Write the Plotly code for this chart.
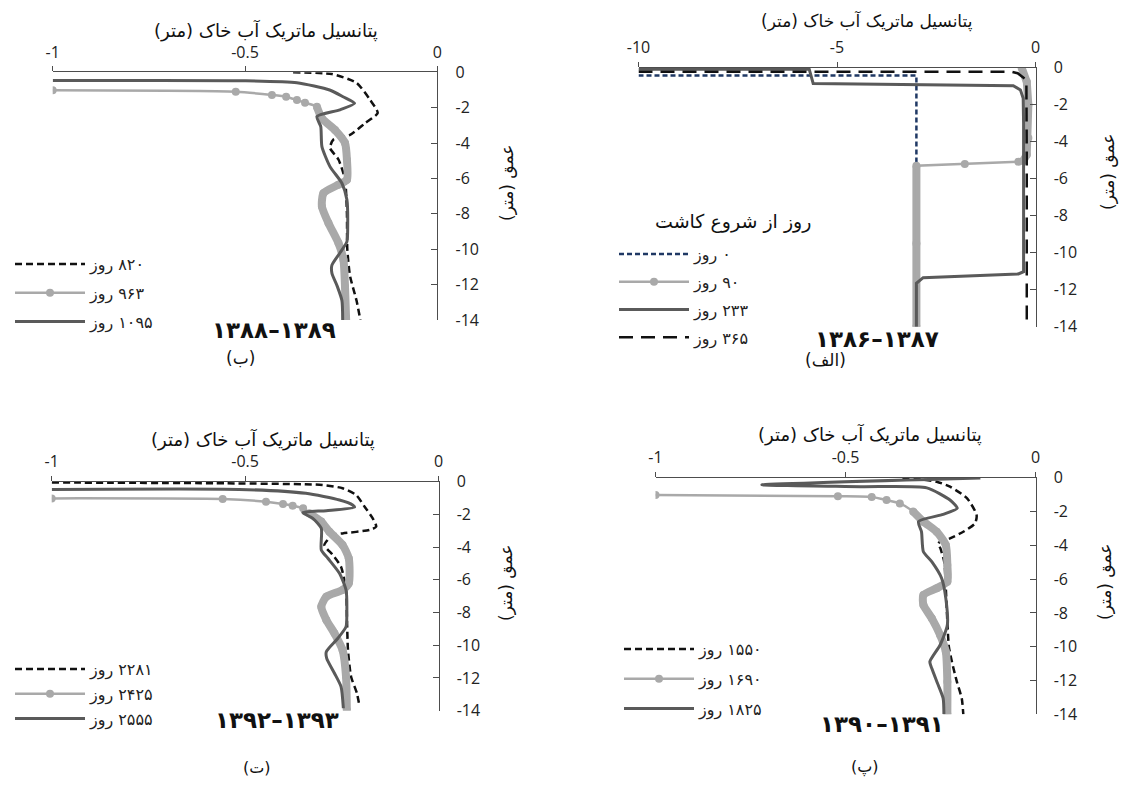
import plotly.graph_objects as go

W, H = 1128, 787          # browser window
OFF = 8                   # default page margin around the figure
FW, FH = W - 2 * OFF, H - 2 * OFF
FA = "DejaVu Sans"
NUM = "Open Sans"
RLM = "\u200f"

# ---------------- data ----------------
# panel (الف) 1386-1387, x in metres (-10..0)
a_days = [0, 90, 233, 365]
a0_x = [-10.0, -3.0, -3.0]
a0_d = [-0.42, -0.42, -5.15]
a90_x = [-0.35, -0.22, -0.18, -0.18, -0.22, -0.31, -0.43, -1.78, -3.0, -3.0, -3.0]
a90_d = [0.0, -0.76, -2.0, -3.8, -4.7, -5.04, -5.08, -5.2, -5.3, -9.5, -14.0]
a233_x = [-10.0, -5.7, -5.6, -0.56, -0.38, -0.31, -0.3, -0.3, -0.43, -2.83, -3.0, -3.0]
a233_d = [-0.08, -0.08, -0.85, -0.97, -1.2, -1.65, -3.0, -11.03, -11.15, -11.35, -11.65, -14.0]
a365_x = [-10.0, -0.6, -0.45, -0.23, -0.22, -0.22]
a365_d = [-0.22, -0.22, -0.3, -0.66, -5.0, -14.0]

# panel (ب) 1388-1389
b_days = [820, 963, 1095]
b820_x = [-0.375, -0.274, -0.21, -0.175, -0.155, -0.188, -0.227, -0.27, -0.279, -0.257, -0.24, -0.235, -0.234, -0.227, -0.21, -0.2]
b820_d = [0.0, -0.1, -0.6, -1.55, -2.3, -2.88, -3.54, -3.8, -4.27, -4.93, -6.06, -7.95, -10.0, -11.5, -12.9, -14.0]
b963_x = [-1.0, -0.524, -0.43, -0.393, -0.365, -0.344, -0.313, -0.3, -0.266, -0.24, -0.235, -0.235, -0.257, -0.296, -0.3, -0.283, -0.257, -0.244, -0.24, -0.237]
b963_d = [-1.02, -1.1, -1.28, -1.38, -1.57, -1.72, -1.95, -2.6, -3.26, -4.0, -4.94, -6.07, -6.35, -6.83, -7.58, -8.52, -9.65, -10.6, -12.1, -14.0]
b1095_x = [-1.0, -0.505, -0.365, -0.28, -0.245, -0.215, -0.253, -0.313, -0.303, -0.3, -0.279, -0.248, -0.235, -0.233, -0.235, -0.253, -0.274, -0.274, -0.26, -0.248, -0.246]
b1095_d = [-0.47, -0.48, -0.59, -1.0, -1.38, -1.75, -2.12, -2.5, -3.07, -4.2, -5.33, -6.27, -7.2, -8.73, -9.57, -10.2, -10.9, -11.36, -12.1, -12.9, -14.0]

# panel (پ) 1390-1391
p_days = [1550, 1690, 1825]
p1550_x = [-0.35, -0.3, -0.26, -0.225, -0.18, -0.155, -0.159, -0.19, -0.225, -0.256, -0.25, -0.24, -0.236, -0.232, -0.228, -0.22, -0.207, -0.194, -0.19]
p1550_d = [0.0, -0.1, -0.24, -0.53, -1.22, -2.2, -2.7, -3.2, -3.59, -3.88, -4.2, -5.0, -6.54, -8.5, -10.0, -10.89, -12.07, -13.06, -14.0]
p1690_x = [-1.0, -0.52, -0.431, -0.392, -0.357, -0.322, -0.295, -0.26, -0.236, -0.232, -0.232, -0.26, -0.295, -0.295, -0.273, -0.251, -0.236, -0.232, -0.232]
p1690_d = [-1.02, -1.1, -1.14, -1.32, -1.52, -2.0, -2.6, -3.2, -3.98, -5.17, -6.15, -6.54, -6.94, -7.53, -8.32, -9.31, -10.3, -12.07, -14.0]
p1825_x = [-0.145, -0.72, -0.46, -0.286, -0.225, -0.206, -0.243, -0.308, -0.3, -0.295, -0.273, -0.247, -0.236, -0.232, -0.251, -0.278, -0.273, -0.256, -0.243, -0.241]
p1825_d = [-0.02, -0.42, -0.53, -0.6, -1.32, -1.81, -2.17, -2.6, -3.2, -4.38, -4.97, -5.95, -7.14, -8.72, -9.9, -10.89, -11.28, -12.27, -13.06, -14.0]

# panel (ت) 1392-1393
t_days = [2281, 2425, 2555]
t2281_x = [-1.0, -0.55, -0.3, -0.248, -0.213, -0.191, -0.17, -0.161, -0.178, -0.248, -0.273, -0.295, -0.273, -0.252, -0.239, -0.237, -0.234, -0.226, -0.211, -0.204]
t2281_d = [-0.05, -0.1, -0.2, -0.4, -0.81, -1.53, -2.24, -2.75, -2.95, -3.16, -3.26, -3.87, -4.48, -5.2, -6.62, -8.04, -10.29, -11.92, -12.93, -13.75]
t2425_x = [-1.0, -0.558, -0.446, -0.402, -0.377, -0.35, -0.334, -0.303, -0.282, -0.248, -0.232, -0.232, -0.248, -0.29, -0.303, -0.29, -0.269, -0.248, -0.239, -0.237]
t2425_d = [-1.02, -1.06, -1.22, -1.36, -1.47, -1.63, -1.93, -2.44, -3.06, -3.87, -4.68, -6.21, -6.62, -7.03, -7.64, -8.45, -9.27, -10.29, -11.92, -13.96]
t2555_x = [-1.0, -0.515, -0.343, -0.256, -0.222, -0.217, -0.29, -0.351, -0.325, -0.303, -0.303, -0.286, -0.256, -0.239, -0.237, -0.239, -0.26, -0.29, -0.289, -0.269, -0.252, -0.246]
t2555_d = [-0.47, -0.47, -0.71, -1.12, -1.42, -1.56, -1.77, -1.89, -2.24, -2.85, -4.17, -4.68, -5.6, -6.62, -8.04, -8.86, -9.57, -10.39, -10.8, -11.71, -12.53, -13.85]

years_a = [1386, 1387]
years_b = [1388, 1389]
years_p = [1390, 1391]
years_t = [1392, 1393]

depth_ticks = [0, -2, -4, -6, -8, -10, -12, -14]
x_ticks_small = [-1, -0.5, 0]
x_ticks_large = [-10, -5, 0]

x_title = "پتانسیل ماتریک آب خاک (متر)"
y_title = "عمق (متر)"
legend_title = "روز از شروع کاشت"
day_word = "روز"

# ---------------- helpers ----------------
FA_DIG = str.maketrans("0123456789", "۰۱۲۳۴۵۶۷۸۹")


def fa(n):
    return str(n).translate(FA_DIG)


def rtl(s):
    return RLM + s + RLM


def day_label(n):
    return RLM + fa(n) + " " + day_word


def px(x):
    return (x - OFF) / FW


def py(y):
    return 1 - (y - OFF) / FH


def xd(l, r):
    return [px(l), px(r)]


def yd(t, b):
    return [py(b), py(t)]


fig = go.Figure()

BLACK = "#111111"
LGRAY = "#a9a9a9"
DGRAY = "#5a5a5a"
NAVY = "#1f3864"

# panel geometry (window pixels)
panels = {
    "b": dict(x=(52.7, 437.3), y=(72.3, 320.0), ax="1", rng=[-1, 0], ticks=x_ticks_small),
    "a": dict(x=(638.5, 1035.5), y=(67.7, 326.7), ax="2", rng=[-10, 0], ticks=x_ticks_large),
    "t": dict(x=(51.7, 438.5), y=(481.7, 710.7), ax="3", rng=[-1, 0], ticks=x_ticks_small),
    "p": dict(x=(655.5, 1035.5), y=(477.7, 714.3), ax="4", rng=[-1, 0], ticks=x_ticks_small),
}


def axref(p):
    n = panels[p]["ax"]
    return ("x" if n == "1" else "x" + n), ("y" if n == "1" else "y" + n)


def tick_text(v):
    return "0" if v == 0 else ("%g" % v)


def add_line(p, xs, ds, name, color, width, dash="solid", legend="legend", shape="spline", markers=False):
    xr, yr = axref(p)
    fig.add_trace(go.Scatter(
        x=xs, y=ds, name=name, mode="lines+markers" if markers else "lines",
        line=dict(color=color, width=width, dash=dash, shape=shape, smoothing=0.6 if shape == "spline" else None),
        marker=dict(size=8, color=color) if markers else None,
        xaxis=xr, yaxis=yr, legend=legend, legendgroup=name, showlegend=True,
    ))


def add_band(p, xs, ds, ranges, color, shape="spline"):
    xr, yr = axref(p)
    bx, by = [], []
    for (i0, i1) in ranges:
        bx += xs[i0:i1 + 1] + [None]
        by += ds[i0:i1 + 1] + [None]
    fig.add_trace(go.Scatter(
        x=bx, y=by, mode="lines", showlegend=False, hoverinfo="skip",
        line=dict(color=color, width=8, shape=shape, smoothing=0.6 if shape == "spline" else None),
        xaxis=xr, yaxis=yr, connectgaps=False,
    ))


DASH = "7px,4px"

# panel ب
add_line("b", b820_x, b820_d, day_label(b_days[0]), BLACK, 2.5, DASH, "legend")
add_band("b", b963_x, b963_d, [(6, len(b963_x) - 1)], LGRAY)
add_line("b", b963_x, b963_d, day_label(b_days[1]), LGRAY, 2.5, "solid", "legend", markers=True)
add_line("b", b1095_x, b1095_d, day_label(b_days[2]), DGRAY, 3, "solid", "legend")

# panel الف
add_line("a", a0_x, a0_d, day_label(a_days[0]), NAVY, 2.5, "5px,3px", "legend2", shape="linear")
add_band("a", a90_x, a90_d, [(0, 5), (8, 10)], LGRAY, shape="linear")
add_line("a", a90_x, a90_d, day_label(a_days[1]), LGRAY, 2.5, "solid", "legend2", shape="linear", markers=True)
add_line("a", a233_x, a233_d, day_label(a_days[2]), DGRAY, 3, "solid", "legend2", shape="linear")
add_line("a", a365_x, a365_d, day_label(a_days[3]), BLACK, 2.5, "14px,8px", "legend2", shape="linear")

# panel ت
add_line("t", t2281_x, t2281_d, day_label(t_days[0]), BLACK, 2.5, DASH, "legend3")
add_band("t", t2425_x, t2425_d, [(6, len(t2425_x) - 1)], LGRAY)
add_line("t", t2425_x, t2425_d, day_label(t_days[1]), LGRAY, 2.5, "solid", "legend3", markers=True)
add_line("t", t2555_x, t2555_d, day_label(t_days[2]), DGRAY, 3, "solid", "legend3")

# panel پ
add_line("p", p1550_x, p1550_d, day_label(p_days[0]), BLACK, 2.5, DASH, "legend4")
add_band("p", p1690_x, p1690_d, [(5, len(p1690_x) - 1)], LGRAY)
add_line("p", p1690_x, p1690_d, day_label(p_days[1]), LGRAY, 2.5, "solid", "legend4", markers=True)
add_line("p", p1825_x, p1825_d, day_label(p_days[2]), DGRAY, 3, "solid", "legend4")

# axes
layout = dict(width=FW, height=FH, margin=dict(l=0, r=0, t=0, b=0, autoexpand=False),
              paper_bgcolor="white", plot_bgcolor="white", showlegend=True,
              font=dict(family=FA, size=14, color="#222222"))
AXC = "#4d4d4d"
for key, pc in panels.items():
    n = pc["ax"]
    xk = "xaxis" if n == "1" else "xaxis" + n
    yk = "yaxis" if n == "1" else "yaxis" + n
    xr, yr = axref(key)
    layout[xk] = dict(domain=xd(*pc["x"]), anchor=yr, side="top", range=pc["rng"], automargin=False,
                      tickmode="array", tickvals=pc["ticks"], ticktext=[tick_text(v) for v in pc["ticks"]],
                      ticks="outside", ticklen=5, tickcolor=AXC, showline=True, linecolor=AXC, linewidth=1,
                      showgrid=False, zeroline=False, ticklabelstandoff=2,
                      tickfont=dict(family=NUM, size=16, color="#222222"))
    layout[yk] = dict(domain=yd(*pc["y"]), anchor=xr, side="right", range=[-14, 0], automargin=False,
                      tickmode="array", tickvals=depth_ticks, ticktext=[tick_text(v) for v in depth_ticks],
                      ticks="inside", ticklen=6, tickcolor=AXC, showline=True, linecolor=AXC, linewidth=1,
                      showgrid=False, zeroline=False, ticklabelstandoff=14,
                      tickfont=dict(family=NUM, size=16, color="#222222"))


def leg(x, ytop, gap):
    return dict(x=px(x), y=py(ytop), xanchor="left", yanchor="top", bgcolor="rgba(0,0,0,0)",
                traceorder="grouped", tracegroupgap=gap, itemwidth=70,
                font=dict(family=FA, size=16, color="#222222"))


layout["legend"] = leg(10, 247, 5)
layout["legend2"] = leg(614, 237, 4)
layout["legend3"] = leg(10, 652, 1)
layout["legend4"] = leg(619, 632, 6)

fig.update_layout(**layout)

ann = []


def text(x, y, s, size=15, bold=False, angle=0, family=FA):
    ann.append(dict(x=px(x), y=py(y), xref="paper", yref="paper", text=("<b>%s</b>" % s) if bold else s,
                    showarrow=False, xanchor="center", yanchor="middle", textangle=angle,
                    font=dict(family=family, size=size, color="#111111")))


# x-axis titles
text(266, 30, rtl(x_title), size=18)
text(867, 21, rtl(x_title), size=17)
text(263, 439, rtl(x_title), size=18)
text(870, 434, rtl(x_title), size=18)
# y-axis titles
text(507, 183, rtl(y_title), size=17, angle=-90)
text(1108, 172, rtl(y_title), size=17, angle=-90)
text(506, 583, rtl(y_title), size=17, angle=-90)
text(1105, 582, rtl(y_title), size=17, angle=-90)
# year labels
text(274, 330, fa(years_b[0]) + "–" + fa(years_b[1]), size=23, bold=True)
text(877, 339, fa(years_a[0]) + "–" + fa(years_a[1]), size=23, bold=True)
text(277, 720, fa(years_t[0]) + "–" + fa(years_t[1]), size=23, bold=True)
text(882, 724, fa(years_p[0]) + "–" + fa(years_p[1]), size=23, bold=True)
# legend title
text(733, 221, rtl(legend_title), size=19)
# panel letters
text(240, 358, rtl("(ب)"), size=17)
text(825, 360, rtl("(الف)"), size=17)
text(257, 767, rtl("(ت)"), size=16)
text(865, 767, rtl("(پ)"), size=16)

fig.update_layout(annotations=ann)
fig.write_html("out.html")
